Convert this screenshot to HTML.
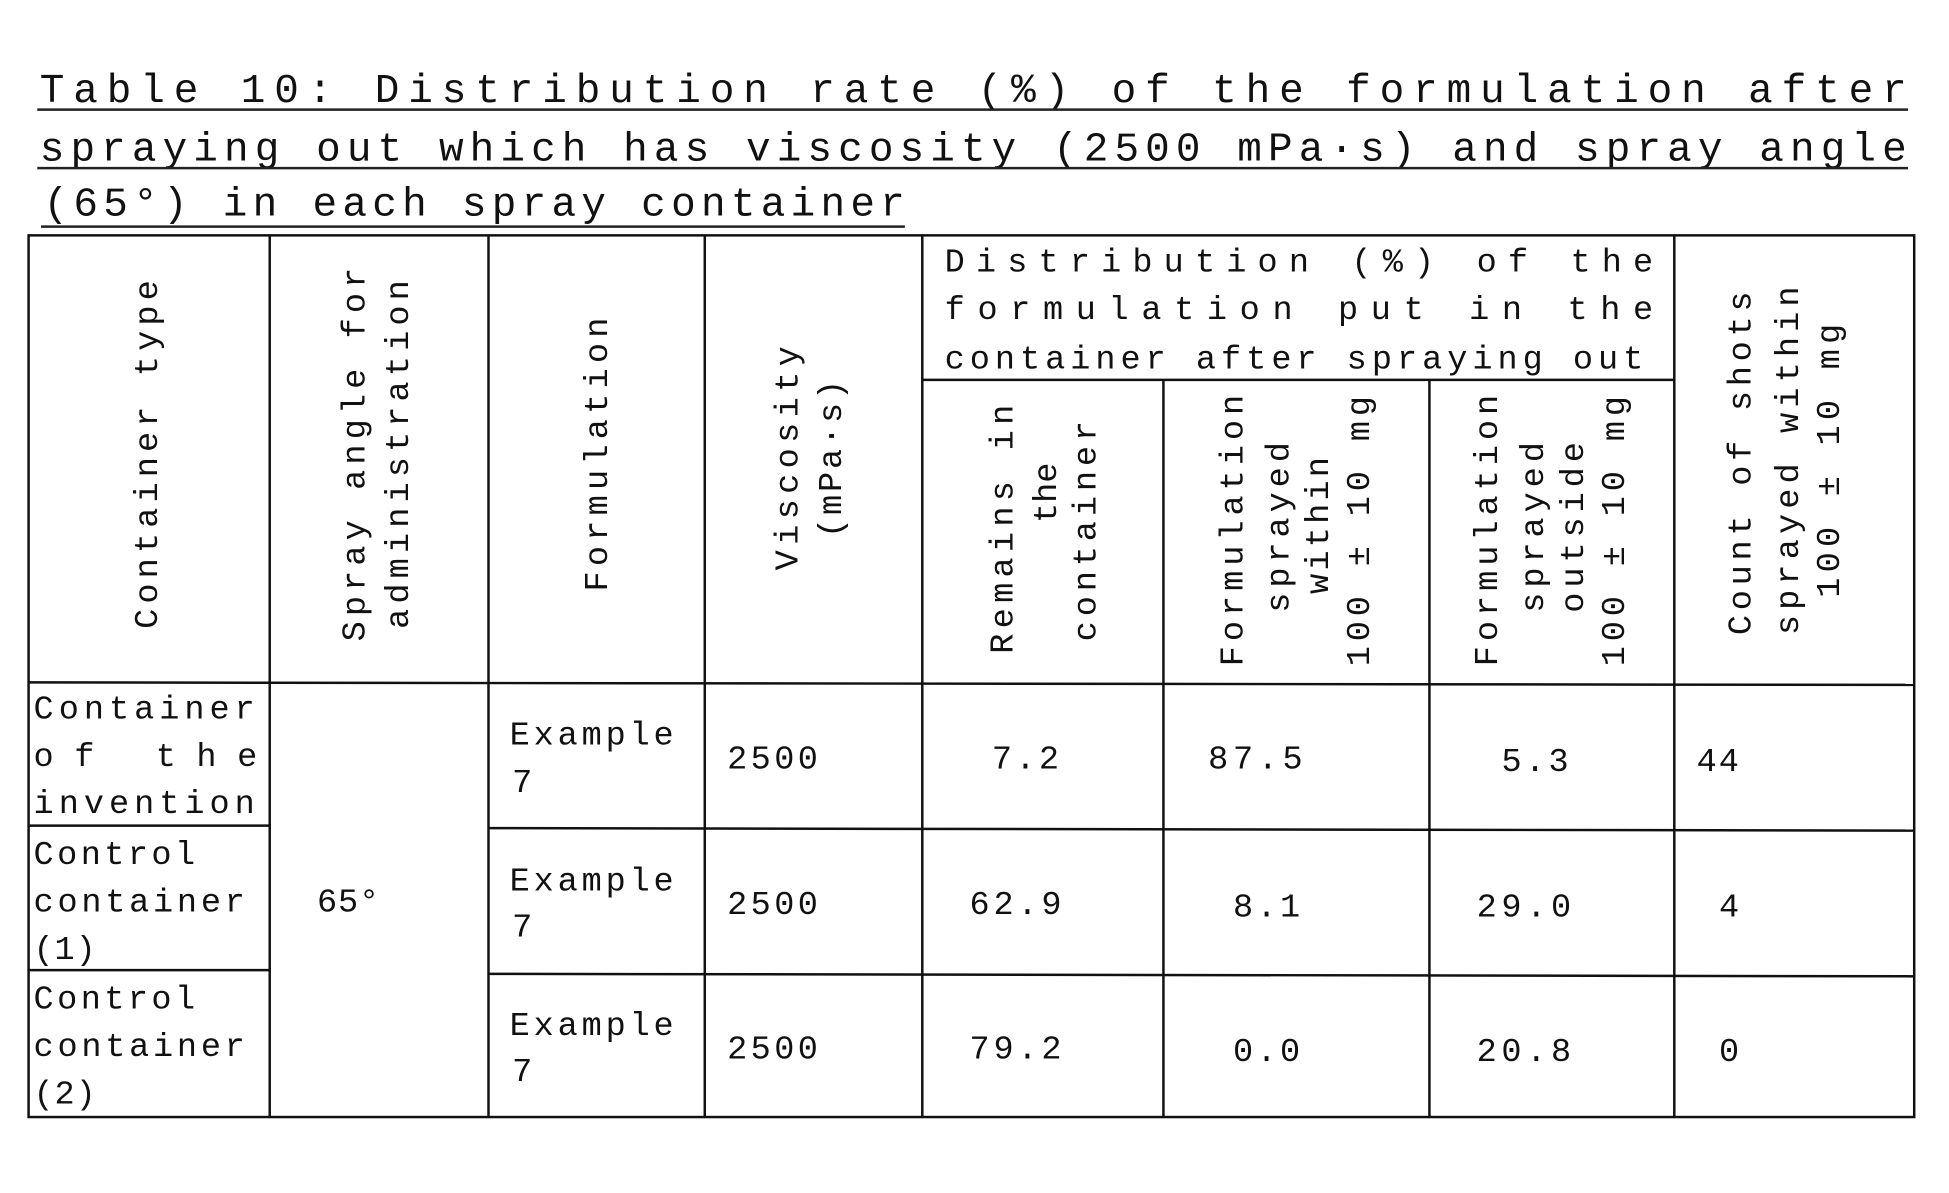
<!DOCTYPE html>
<html><head><style>
html,body{margin:0;padding:0;background:#fff;}
svg{display:block;}
text{font-family:"Liberation Mono",monospace;fill:#111;}
</style></head><body>
<svg width="1949" height="1193" viewBox="0 0 1568 958" preserveAspectRatio="none" xmlns="http://www.w3.org/2000/svg">
<g font-size="33">
<text x="32" y="82" textLength="1502" lengthAdjust="spacing">Table 10: Distribution rate (%) of the formulation after</text>
<text x="32" y="129" textLength="1502" lengthAdjust="spacing">spraying out which has viscosity (2500 mPa·s) and spray angle</text>
<text x="35" y="173" textLength="693" lengthAdjust="spacing">(65°) in each spray container</text>
</g>
<g stroke="#222" stroke-width="2">
<line x1="30" y1="88" x2="1535" y2="88"/>
<line x1="30" y1="135" x2="1535" y2="135"/>
<line x1="33" y1="182" x2="728" y2="182"/>
</g>
<g stroke="#111" stroke-width="2" fill="none">
<rect x="23" y="189" width="1517" height="708"/>
<line x1="217" y1="189" x2="217" y2="897"/>
<line x1="393" y1="189" x2="393" y2="897"/>
<line x1="567" y1="189" x2="567" y2="897"/>
<line x1="742" y1="189" x2="742" y2="897"/>
<line x1="936" y1="305" x2="936" y2="897"/>
<line x1="1150" y1="305" x2="1150" y2="897"/>
<line x1="1347" y1="189" x2="1347" y2="897"/>
<line x1="742" y1="305" x2="1347" y2="305"/>
<line x1="23" y1="548" x2="1540" y2="550"/>
<line x1="23" y1="663" x2="217" y2="663"/>
<line x1="393" y1="665" x2="1540" y2="667"/>
<line x1="23" y1="779" x2="217" y2="779"/>
<line x1="393" y1="782" x2="1540" y2="784"/>
</g>
<g font-size="27" dominant-baseline="central">
<text transform="translate(120,505) rotate(-90)" textLength="280" lengthAdjust="spacing">Container type</text>
<text transform="translate(287,515) rotate(-90)" textLength="300" lengthAdjust="spacing">Spray angle for</text>
<text transform="translate(322,505) rotate(-90)" textLength="280" lengthAdjust="spacing">administration</text>
<text transform="translate(482,475) rotate(-90)" textLength="220" lengthAdjust="spacing">Formulation</text>
<text transform="translate(635,458) rotate(-90)" textLength="180" lengthAdjust="spacing">Viscosity</text>
<text transform="translate(670,432) rotate(-90)" textLength="127" lengthAdjust="spacing">(mPa·s)</text>
<text transform="translate(808,525) rotate(-90)" textLength="200" lengthAdjust="spacing">Remains in</text>
<text transform="translate(843,420) rotate(-90)">the</text>
<text transform="translate(875,515) rotate(-90)" textLength="177" lengthAdjust="spacing">container</text>
<text transform="translate(993,535) rotate(-90)" textLength="218" lengthAdjust="spacing">Formulation</text>
<text transform="translate(1030,492) rotate(-90)" textLength="137" lengthAdjust="spacing">sprayed</text>
<text transform="translate(1062,477) rotate(-90)" textLength="110" lengthAdjust="spacing">within</text>
<text transform="translate(1095,535) rotate(-90)" textLength="217" lengthAdjust="spacing">100 ± 10 mg</text>
<text transform="translate(1198,535) rotate(-90)" textLength="218" lengthAdjust="spacing">Formulation</text>
<text transform="translate(1235,492) rotate(-90)" textLength="137" lengthAdjust="spacing">sprayed</text>
<text transform="translate(1267,492) rotate(-90)" textLength="137" lengthAdjust="spacing">outside</text>
<text transform="translate(1300,535) rotate(-90)" textLength="217" lengthAdjust="spacing">100 ± 10 mg</text>
<text transform="translate(1402,510) rotate(-90)" textLength="276" lengthAdjust="spacing">Count of shots</text>
<text transform="translate(1440,510) rotate(-90)" textLength="280" lengthAdjust="spacing">sprayed within</text>
<text transform="translate(1473,480) rotate(-90)" textLength="220" lengthAdjust="spacing">100 ± 10 mg</text>
</g>
<g font-size="27">
<text x="760" y="218" textLength="570" lengthAdjust="spacing">Distribution (%) of the</text>
<text x="760" y="256" textLength="570" lengthAdjust="spacing">formulation put in the</text>
<text x="760" y="296" textLength="562" lengthAdjust="spacing">container after spraying out</text>

<text x="27" y="577" textLength="178" lengthAdjust="spacing">Container</text>
<text x="27" y="615" textLength="180" lengthAdjust="spacing">of the</text>
<text x="27" y="653" textLength="178" lengthAdjust="spacing">invention</text>
<text x="27" y="694" textLength="130" lengthAdjust="spacing">Control</text>
<text x="27" y="732" textLength="170" lengthAdjust="spacing">container</text>
<text x="27" y="770" textLength="50" lengthAdjust="spacing">(1)</text>
<text x="27" y="810" textLength="130" lengthAdjust="spacing">Control</text>
<text x="27" y="848" textLength="170" lengthAdjust="spacing">container</text>
<text x="27" y="886" textLength="50" lengthAdjust="spacing">(2)</text>
<text x="255" y="732" textLength="50" lengthAdjust="spacing">65°</text>

<text x="410" y="598" textLength="132" lengthAdjust="spacing">Example</text>
<text x="412" y="636">7</text>
<text x="410" y="715" textLength="132" lengthAdjust="spacing">Example</text>
<text x="412" y="752">7</text>
<text x="410" y="831" textLength="132" lengthAdjust="spacing">Example</text>
<text x="412" y="868">7</text>

<text x="585" y="617" textLength="73" lengthAdjust="spacing">2500</text>
<text x="585" y="734" textLength="73" lengthAdjust="spacing">2500</text>
<text x="585" y="850" textLength="73" lengthAdjust="spacing">2500</text>

<text x="798" y="617" textLength="54" lengthAdjust="spacing">7.2</text>
<text x="972" y="617" textLength="76" lengthAdjust="spacing">87.5</text>
<text x="1208" y="619" textLength="54" lengthAdjust="spacing">5.3</text>
<text x="1365" y="619" textLength="34" lengthAdjust="spacing">44</text>

<text x="780" y="734" textLength="74" lengthAdjust="spacing">62.9</text>
<text x="992" y="736" textLength="54" lengthAdjust="spacing">8.1</text>
<text x="1188" y="736" textLength="76" lengthAdjust="spacing">29.0</text>
<text x="1383" y="736">4</text>

<text x="780" y="850" textLength="74" lengthAdjust="spacing">79.2</text>
<text x="992" y="852" textLength="54" lengthAdjust="spacing">0.0</text>
<text x="1188" y="852" textLength="76" lengthAdjust="spacing">20.8</text>
<text x="1383" y="852">0</text>
</g>
</svg>
</body></html>
